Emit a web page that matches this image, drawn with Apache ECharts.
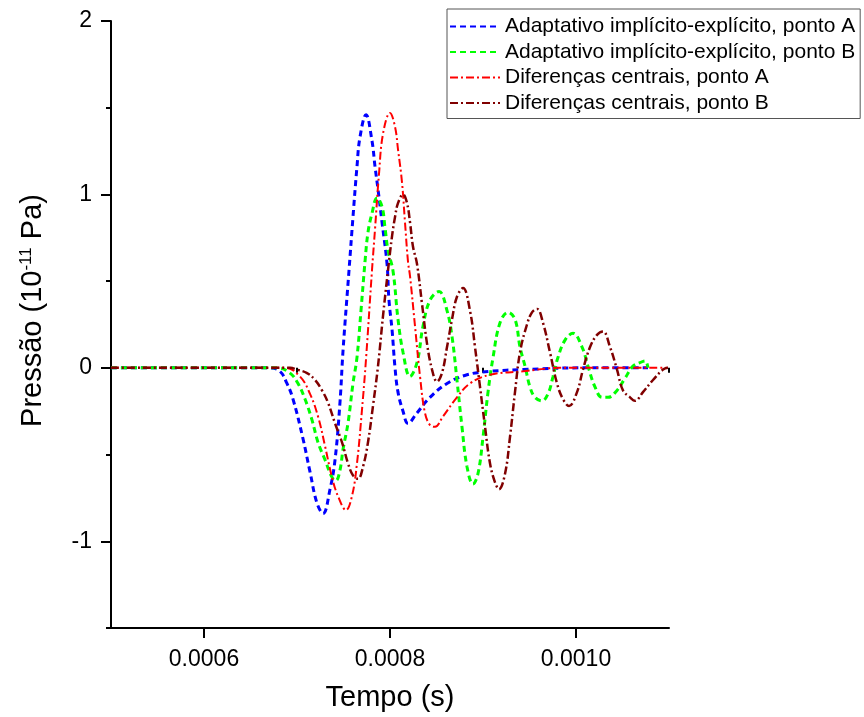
<!DOCTYPE html>
<html>
<head>
<meta charset="utf-8">
<script src="https://cdn.jsdelivr.net/npm/echarts@6/dist/echarts.min.js"></script>
<style>html,body{margin:0;padding:0;background:#fff;}#c{width:864px;height:717px;}</style>
</head>
<body>
<div id="c"></div>
<script>
// ---- data (time in seconds, pressure in 1e-11 Pa) ----
const seriesNames = [
  'Adaptativo implícito-explícito, ponto A',
  'Adaptativo implícito-explícito, ponto B',
  'Diferenças centrais, ponto A',
  'Diferenças centrais, ponto B'
];
const xMajorTicks = [0.0006, 0.0008, 0.0010];
const xMinorTicks = [0.0005, 0.0007, 0.0009, 0.0011];
const yMajorTicks = [-1, 0, 1, 2];
const yMinorTicks = [-1.5, -0.5, 0.5, 1.5];

const aieAT = [500e-6, 671.0e-6, 681.7e-6, 689.2e-6, 695.7e-6, 706.5e-6, 714.0e-6, 721.5e-6, 728.0e-6, 735.5e-6, 740.9e-6, 746.2e-6, 749.5e-6, 755.9e-6, 760.2e-6, 764.5e-6, 767.7e-6, 774.2e-6, 780.6e-6, 783.9e-6, 787.1e-6, 791.4e-6, 796.8e-6, 798.9e-6, 802.2e-6, 805.4e-6, 808.6e-6, 814.0e-6, 819.4e-6, 829.0e-6, 843.0e-6, 861.3e-6, 882.8e-6, 907.5e-6, 943.0e-6, 1004.3e-6, 1077.4e-6];
const aieAP = [0, 0, -0.02, -0.09, -0.18, -0.41, -0.60, -0.78, -0.84, -0.70, -0.53, -0.20, 0.10, 0.56, 0.87, 1.16, 1.33, 1.46, 1.31, 1.16, 1.03, 0.84, 0.60, 0.39, 0.22, 0.00, -0.14, -0.25, -0.32, -0.26, -0.17, -0.09, -0.04, -0.02, -0.01, 0, 0];

const aieBT = [500e-6, 679.6e-6, 692.5e-6, 701.1e-6, 708.6e-6, 716.1e-6, 722.6e-6, 730.1e-6, 737.6e-6, 741.9e-6, 746.2e-6, 749.5e-6, 754.8e-6, 760.2e-6, 764.5e-6, 768.8e-6, 773.1e-6, 776.3e-6, 780.6e-6, 786.0e-6, 791.4e-6, 794.6e-6, 797.8e-6, 803.2e-6, 808.6e-6, 814.0e-6, 821.5e-6, 829.0e-6, 835.5e-6, 843.0e-6, 852.7e-6, 861.3e-6, 866.7e-6, 872.0e-6, 877.4e-6, 882.8e-6, 889.2e-6, 894.6e-6, 900.0e-6, 905.4e-6, 910.8e-6, 918.3e-6, 926.9e-6, 934.4e-6, 939.8e-6, 945.2e-6, 950.5e-6, 955.9e-6, 963.4e-6, 969.9e-6, 975.3e-6, 980.6e-6, 988.2e-6, 996.8e-6, 1006.5e-6, 1012.9e-6, 1020.4e-6, 1028.0e-6, 1034.4e-6, 1044.1e-6, 1052.7e-6, 1061.3e-6, 1068.8e-6, 1074.2e-6, 1077.4e-6];
const aieBP = [0, 0, -0.03, -0.09, -0.18, -0.30, -0.43, -0.53, -0.63, -0.65, -0.59, -0.47, -0.32, -0.09, 0.06, 0.33, 0.61, 0.78, 0.89, 0.98, 0.93, 0.81, 0.68, 0.56, 0.28, 0.09, -0.05, 0.03, 0.24, 0.39, 0.44, 0.33, 0.18, -0.07, -0.34, -0.57, -0.67, -0.61, -0.40, -0.14, 0.06, 0.26, 0.32, 0.28, 0.12, 0.01, -0.11, -0.17, -0.19, -0.15, -0.05, 0.06, 0.16, 0.20, 0.12, 0.01, -0.11, -0.17, -0.17, -0.13, -0.06, 0.01, 0.03, 0.04, 0.0];

const dcAT = [500e-6, 687.1e-6, 703.2e-6, 714.0e-6, 722.6e-6, 730.1e-6, 737.6e-6, 744.1e-6, 752.7e-6, 759.1e-6, 764.5e-6, 769.9e-6, 774.2e-6, 780.6e-6, 783.9e-6, 788.2e-6, 792.5e-6, 800.0e-6, 805.4e-6, 808.6e-6, 812.9e-6, 816.1e-6, 819.4e-6, 821.5e-6, 826.9e-6, 832.3e-6, 837.6e-6, 843.0e-6, 848.4e-6, 857.0e-6, 872.0e-6, 886.0e-6, 907.5e-6, 943.0e-6, 982.8e-6, 1098.9e-6];
const dcAP = [0, 0, -0.05, -0.15, -0.28, -0.45, -0.63, -0.74, -0.82, -0.74, -0.55, -0.24, 0.05, 0.56, 0.80, 1.12, 1.35, 1.47, 1.39, 1.26, 1.07, 0.84, 0.61, 0.53, 0.24, -0.05, -0.26, -0.33, -0.34, -0.28, -0.17, -0.09, -0.04, -0.02, 0, 0];

const dcBT = [500e-6, 692.5e-6, 700.0e-6, 710.8e-6, 719.4e-6, 726.9e-6, 733.3e-6, 740.9e-6, 748.4e-6, 754.8e-6, 760.2e-6, 765.6e-6, 771.0e-6, 776.3e-6, 781.7e-6, 787.1e-6, 792.5e-6, 797.8e-6, 802.2e-6, 805.4e-6, 808.6e-6, 814.0e-6, 818.3e-6, 821.5e-6, 824.7e-6, 829.0e-6, 834.4e-6, 839.8e-6, 845.2e-6, 850.5e-6, 855.9e-6, 861.3e-6, 866.7e-6, 872.0e-6, 878.5e-6, 886.0e-6, 891.4e-6, 896.8e-6, 902.2e-6, 907.5e-6, 912.9e-6, 917.2e-6, 923.7e-6, 929.0e-6, 934.4e-6, 939.8e-6, 947.3e-6, 952.7e-6, 958.1e-6, 964.5e-6, 972.0e-6, 979.6e-6, 986.0e-6, 992.5e-6, 1001.1e-6, 1007.5e-6, 1015.1e-6, 1022.6e-6, 1029.0e-6, 1036.6e-6, 1044.1e-6, 1050.5e-6, 1058.1e-6, 1063.4e-6, 1072.0e-6, 1082.8e-6, 1093.6e-6, 1098.9e-6];
const dcBP = [0, 0, -0.01, -0.03, -0.07, -0.13, -0.20, -0.32, -0.43, -0.55, -0.62, -0.64, -0.57, -0.43, -0.22, 0.01, 0.30, 0.56, 0.76, 0.87, 0.95, 1.00, 0.95, 0.84, 0.70, 0.60, 0.37, 0.14, -0.01, -0.08, -0.03, 0.12, 0.28, 0.41, 0.46, 0.33, 0.12, -0.11, -0.34, -0.55, -0.66, -0.70, -0.61, -0.40, -0.14, 0.09, 0.25, 0.32, 0.34, 0.26, 0.09, -0.09, -0.18, -0.22, -0.14, -0.01, 0.12, 0.19, 0.21, 0.12, -0.01, -0.13, -0.17, -0.19, -0.14, -0.07, -0.01, 0];

// ---- chart ----
const FONT = 'Arial, "Liberation Sans", sans-serif';
const zip = (t, p) => t.map((v, i) => [v, p[i]]);

const chart = echarts.init(document.getElementById('c'), null, { renderer: 'canvas' });

function mkSeries(name, t, p, color, width, dash) {
  return {
    name: name, type: 'line', xAxisIndex: 0, yAxisIndex: 0,
    data: zip(t, p), showSymbol: false, symbol: 'none',
    smooth: 0.4,
    lineStyle: { color: color, width: width, type: dash },
    itemStyle: { color: color },
    emphasis: { disabled: true }, z: 2
  };
}

const option = {
  animation: false,
  backgroundColor: '#fff',
  textStyle: { fontFamily: FONT },
  grid: { left: 111, right: 195, top: 21, bottom: 88, containLabel: false },
  legend: {
    orient: 'vertical', left: 447, top: 9,
    padding: [7, 5, 5, 2], itemGap: 4.5,
    itemWidth: 50, itemHeight: 14, itemTextGap: 7,
    borderColor: '#555', borderWidth: 1, backgroundColor: '#fff',
    itemStyle: { opacity: 0, borderWidth: 0 },
    textStyle: { fontSize: 21, color: '#000', fontFamily: FONT },
    data: seriesNames
  },
  xAxis: [{
    type: 'value', min: 0.0005, max: 0.0011,
    position: 'bottom',
    axisLine: { show: true, onZero: false, lineStyle: { color: '#000', width: 2 } },
    axisTick: { show: true, customValues: xMajorTicks, length: 10, inside: false, lineStyle: { color: '#000', width: 2 } },
    axisLabel: { show: true, customValues: xMajorTicks, formatter: v => v.toFixed(4), fontSize: 23, color: '#000', margin: 20, fontFamily: FONT },
    splitLine: { show: false },
    name: 'Tempo (s)', nameLocation: 'middle', nameGap: 55,
    nameTextStyle: { fontSize: 29, color: '#000', fontFamily: FONT }
  }, {
    type: 'value', min: 0.0005, max: 0.0011, position: 'bottom', gridIndex: 0,
    axisLine: { show: false },
    axisTick: { show: true, customValues: xMinorTicks, length: 5, lineStyle: { color: '#000', width: 2 } },
    axisLabel: { show: false }, splitLine: { show: false }
  }],
  yAxis: [{
    type: 'value', min: -1.5, max: 2,
    position: 'left',
    axisLine: { show: true, onZero: false, lineStyle: { color: '#000', width: 2 } },
    axisTick: { show: true, customValues: yMajorTicks, length: 10, lineStyle: { color: '#000', width: 2 } },
    axisLabel: { show: true, customValues: yMajorTicks, fontSize: 23, color: '#000', margin: 19, fontFamily: FONT },
    splitLine: { show: false },
    name: '{m|Pressão (10}{s|-11}{m| Pa)}', nameLocation: 'middle', nameGap: 64,
    nameTextStyle: {
      color: '#000', fontFamily: FONT, padding: [0, 0, 0, 28],
      rich: {
        m: { fontSize: 29, color: '#000', fontFamily: FONT },
        s: { fontSize: 17, color: '#000', fontFamily: FONT, verticalAlign: 'top' }
      }
    }
  }, {
    type: 'value', min: -1.5, max: 2, position: 'left', gridIndex: 0,
    axisLine: { show: false },
    axisTick: { show: true, customValues: yMinorTicks, length: 5, lineStyle: { color: '#000', width: 2 } },
    axisLabel: { show: false }, splitLine: { show: false }
  }],
  series: [
    mkSeries(seriesNames[0], aieAT, aieAP, '#0000FF', 3, [6, 4]),
    mkSeries(seriesNames[1], aieBT, aieBP, '#00FF00', 3, [6, 4]),
    mkSeries(seriesNames[2], dcAT, dcAP, '#FF0000', 2, [8, 3, 2, 3]),
    mkSeries(seriesNames[3], dcBT, dcBP, '#800000', 2.5, [8, 3, 2, 3])
  ]
};
chart.setOption(option);
</script>
</body>
</html>
